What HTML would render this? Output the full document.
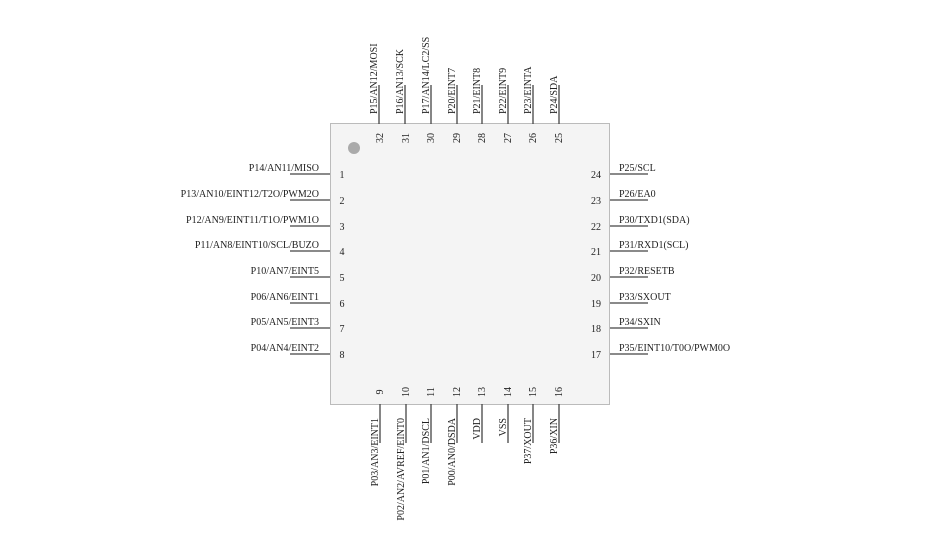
<!DOCTYPE html>
<html><head><style>
html,body{margin:0;padding:0;background:#fff;}
svg{display:block;}
text{font-family:"Liberation Serif",serif;font-size:10px;fill:#222;}
</style></head><body>
<svg width="930" height="549" viewBox="0 0 930 549">
<rect x="330.5" y="123.5" width="279" height="281" fill="#f4f4f4" stroke="#bbb" stroke-width="1"/>
<circle cx="354" cy="148" r="6" fill="#aaa"/>
<g stroke="#444" stroke-width="1.3">
<line x1="290" y1="174" x2="330" y2="174"/>
<line x1="290" y1="200" x2="330" y2="200"/>
<line x1="290" y1="226" x2="330" y2="226"/>
<line x1="290" y1="251" x2="330" y2="251"/>
<line x1="290" y1="277" x2="330" y2="277"/>
<line x1="290" y1="303" x2="330" y2="303"/>
<line x1="290" y1="328" x2="330" y2="328"/>
<line x1="290" y1="354" x2="330" y2="354"/>
<line x1="610" y1="174" x2="648" y2="174"/>
<line x1="610" y1="200" x2="648" y2="200"/>
<line x1="610" y1="226" x2="648" y2="226"/>
<line x1="610" y1="251" x2="648" y2="251"/>
<line x1="610" y1="277" x2="648" y2="277"/>
<line x1="610" y1="303" x2="648" y2="303"/>
<line x1="610" y1="328" x2="648" y2="328"/>
<line x1="610" y1="354" x2="648" y2="354"/>
<line x1="379" y1="85" x2="379" y2="124"/>
<line x1="405" y1="85" x2="405" y2="124"/>
<line x1="431" y1="85" x2="431" y2="124"/>
<line x1="457" y1="85" x2="457" y2="124"/>
<line x1="482" y1="85" x2="482" y2="124"/>
<line x1="508" y1="85" x2="508" y2="124"/>
<line x1="533" y1="85" x2="533" y2="124"/>
<line x1="559" y1="85" x2="559" y2="124"/>
<line x1="380" y1="404" x2="380" y2="443"/>
<line x1="406" y1="404" x2="406" y2="443"/>
<line x1="431" y1="404" x2="431" y2="443"/>
<line x1="457" y1="404" x2="457" y2="443"/>
<line x1="482" y1="404" x2="482" y2="443"/>
<line x1="508" y1="404" x2="508" y2="443"/>
<line x1="533" y1="404" x2="533" y2="443"/>
<line x1="559" y1="404" x2="559" y2="443"/>
</g>
<g text-anchor="end">
<text x="319" y="171">P14/AN11/MISO</text>
<text x="319" y="197">P13/AN10/EINT12/T2O/PWM2O</text>
<text x="319" y="223">P12/AN9/EINT11/T1O/PWM1O</text>
<text x="319" y="248">P11/AN8/EINT10/SCL/BUZO</text>
<text x="319" y="274">P10/AN7/EINT5</text>
<text x="319" y="300">P06/AN6/EINT1</text>
<text x="319" y="325">P05/AN5/EINT3</text>
<text x="319" y="351">P04/AN4/EINT2</text>
</g>
<g text-anchor="middle">
<text x="342" y="178">1</text><text x="342" y="204">2</text><text x="342" y="230">3</text><text x="342" y="255">4</text>
<text x="342" y="281">5</text><text x="342" y="307">6</text><text x="342" y="332">7</text><text x="342" y="358">8</text>
<text x="596" y="178">24</text><text x="596" y="204">23</text><text x="596" y="230">22</text><text x="596" y="255">21</text>
<text x="596" y="281">20</text><text x="596" y="307">19</text><text x="596" y="332">18</text><text x="596" y="358">17</text>
</g>
<g>
<text x="619" y="171">P25/SCL</text>
<text x="619" y="197">P26/EA0</text>
<text x="619" y="223">P30/TXD1(SDA)</text>
<text x="619" y="248">P31/RXD1(SCL)</text>
<text x="619" y="274">P32/RESETB</text>
<text x="619" y="300">P33/SXOUT</text>
<text x="619" y="325">P34/SXIN</text>
<text x="619" y="351">P35/EINT10/T0O/PWM0O</text>
</g>
<g text-anchor="start">
<text transform="translate(377,114) rotate(-90)">P15/AN12/MOSI</text>
<text transform="translate(403,114) rotate(-90)">P16/AN13/SCK</text>
<text transform="translate(429,114) rotate(-90)">P17/AN14/LC2/SS</text>
<text transform="translate(455,114) rotate(-90)">P20/EINT7</text>
<text transform="translate(480,114) rotate(-90)">P21/EINT8</text>
<text transform="translate(506,114) rotate(-90)">P22/EINT9</text>
<text transform="translate(531,114) rotate(-90)">P23/EINTA</text>
<text transform="translate(557,114) rotate(-90)">P24/SDA</text>
</g>
<g text-anchor="middle">
<text transform="translate(383,138) rotate(-90)">32</text>
<text transform="translate(409,138) rotate(-90)">31</text>
<text transform="translate(434,138) rotate(-90)">30</text>
<text transform="translate(460,138) rotate(-90)">29</text>
<text transform="translate(485,138) rotate(-90)">28</text>
<text transform="translate(511,138) rotate(-90)">27</text>
<text transform="translate(536,138) rotate(-90)">26</text>
<text transform="translate(562,138) rotate(-90)">25</text>
<text transform="translate(383,392) rotate(-90)">9</text>
<text transform="translate(409,392) rotate(-90)">10</text>
<text transform="translate(434,392) rotate(-90)">11</text>
<text transform="translate(460,392) rotate(-90)">12</text>
<text transform="translate(485,392) rotate(-90)">13</text>
<text transform="translate(511,392) rotate(-90)">14</text>
<text transform="translate(536,392) rotate(-90)">15</text>
<text transform="translate(562,392) rotate(-90)">16</text>
</g>
<g text-anchor="end">
<text transform="translate(378,418) rotate(-90)">P03/AN3/EINT1</text>
<text transform="translate(404,418) rotate(-90)">P02/AN2/AVREF/EINT0</text>
<text transform="translate(429,418) rotate(-90)">P01/AN1/DSCL</text>
<text transform="translate(455,418) rotate(-90)">P00/AN0/DSDA</text>
<text transform="translate(480,418) rotate(-90)">VDD</text>
<text transform="translate(506,418) rotate(-90)">VSS</text>
<text transform="translate(531,418) rotate(-90)">P37/XOUT</text>
<text transform="translate(557,418) rotate(-90)">P36/XIN</text>
</g>
</svg>
</body></html>
